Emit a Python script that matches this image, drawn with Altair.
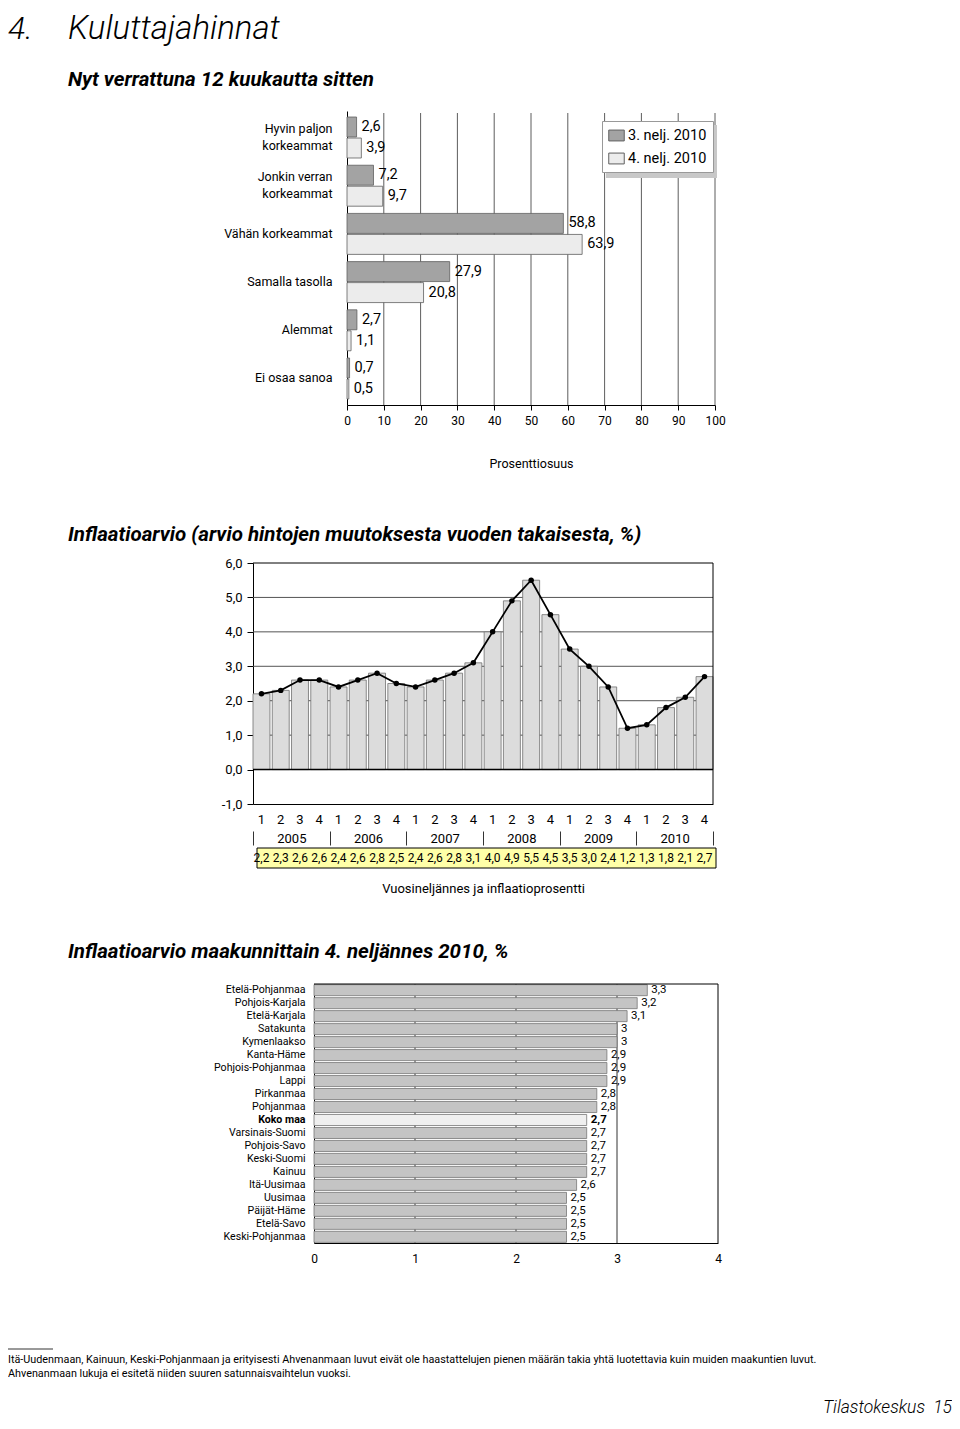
import altair as alt
import pandas as pd

W, H = 944, 1413
FONT = "Roboto"
ONE = pd.DataFrame({"a": [0]})

# ---------- Chart 1 data ----------
cat1 = ["Hyvin paljon\nkorkeammat", "Jonkin verran\nkorkeammat", "Vähän korkeammat",
        "Samalla tasolla", "Alemmat", "Ei osaa sanoa"]
ser1 = ["3. nelj. 2010", "4. nelj. 2010"]
q3_2010 = [2.6, 7.2, 58.8, 27.9, 2.7, 0.7]
q4_2010 = [3.9, 9.7, 63.9, 20.8, 1.1, 0.5]
ticks1 = [0, 10, 20, 30, 40, 50, 60, 70, 80, 90, 100]

# ---------- Chart 2 data ----------
years = [2005, 2006, 2007, 2008, 2009, 2010]
quarters = ["1", "2", "3", "4"]
inflation = [2.2, 2.3, 2.6, 2.6, 2.4, 2.6, 2.8, 2.5, 2.4, 2.6, 2.8, 3.1,
             4.0, 4.9, 5.5, 4.5, 3.5, 3.0, 2.4, 1.2, 1.3, 1.8, 2.1, 2.7]
ticks2 = [-1, 0, 1, 2, 3, 4, 5, 6]
grid2 = [1, 2, 3, 4, 5]

# ---------- Chart 3 data ----------
regions = ["Etelä-Pohjanmaa", "Pohjois-Karjala", "Etelä-Karjala", "Satakunta", "Kymenlaakso",
           "Kanta-Häme", "Pohjois-Pohjanmaa", "Lappi", "Pirkanmaa", "Pohjanmaa", "Koko maa",
           "Varsinais-Suomi", "Pohjois-Savo", "Keski-Suomi", "Kainuu", "Itä-Uusimaa", "Uusimaa",
           "Päijät-Häme", "Etelä-Savo", "Keski-Pohjanmaa"]
region_vals = [3.3, 3.2, 3.1, 3.0, 3.0, 2.9, 2.9, 2.9, 2.8, 2.8, 2.7,
               2.7, 2.7, 2.7, 2.7, 2.6, 2.5, 2.5, 2.5, 2.5]
ticks3 = [0, 1, 2, 3, 4]
grid3 = [1, 2, 3]

COMMA = "replace(format(datum.v, '.1f'), '.', ',')"


def text_item(s, x, y, size, align="left", **kw):
    return alt.Chart(ONE).mark_text(text=s, align=align, baseline="middle",
                                    fontSize=size, **kw).encode(x=alt.value(x), y=alt.value(y))


# ================= Chart 1 =================
df1 = pd.DataFrame([{"cat": c, "series": s, "v": v}
                    for s, vals in zip(ser1, [q3_2010, q4_2010])
                    for c, v in zip(cat1, vals)])

x1 = alt.X("v:Q", scale=alt.Scale(domain=[0, 100], range=[339, 707], nice=False),
           axis=alt.Axis(title="Prosenttiosuus", orient="bottom", offset=397 - H, values=ticks1,
                         tickSize=5, labelPadding=5, labelFontSize=12, titleFontSize=12.5,
                         titleFontWeight="normal", titlePadding=31, grid=False, labelFlush=False))
y1 = alt.Y("cat:N", sort=cat1,
           scale=alt.Scale(range=[103, 397], paddingInner=0.15, paddingOuter=0.125),
           axis=alt.Axis(title=None, orient="left", offset=-339, ticks=False, labelPadding=15,
                         labelFontSize=12.5, labelLineHeight=17, labelOverlap=False,
                         labelExpr="split(datum.value, '\\n')", grid=False,
                         labelOffset={"condition": {"test": "indexof(datum.value, '\\n') >= 0",
                                                    "value": -8.5}, "value": 0}))
yoff1 = alt.YOffset("series:N", sort=ser1, scale=alt.Scale(paddingInner=0.05))

legend_path = "M-1,-0.7L1,-0.7L1,0.7L-1,0.7Z"
color1 = alt.Color("series:N", sort=ser1,
                   scale=alt.Scale(domain=ser1, range=["#a3a3a3", "#ececec"]),
                   legend=alt.Legend(title=None, orient="none", legendX=594, legendY=113,
                                     fillColor="white", strokeColor="#999999", padding=6,
                                     symbolType=legend_path, symbolSize=240,
                                     symbolStrokeColor="#5f5f5f", symbolStrokeWidth=1,
                                     labelFontSize=14.5, rowPadding=7, labelOffset=3))

grid1 = alt.Chart(pd.DataFrame({"t": ticks1[1:]})).mark_rule(color="#333333", strokeWidth=0.8).encode(
    x="t:Q", y=alt.value(105), y2=alt.value(397))
bars1 = alt.Chart(df1).mark_bar(stroke="#5f5f5f", strokeWidth=0.8).encode(
    x=x1, y=y1, yOffset=yoff1, color=color1)
labels1 = alt.Chart(df1).transform_calculate(lbl=COMMA).mark_text(
    align="left", baseline="middle", dx=5, fontSize=14.5).encode(
    x="v:Q", y=alt.Y("cat:N", sort=cat1), yOffset=alt.YOffset("series:N", sort=ser1), text="lbl:N")
shadow = alt.Chart(ONE).mark_rect(fill="#c8c8c8").encode(
    x=alt.value(598), x2=alt.value(709), y=alt.value(117), y2=alt.value(170))

chart1 = alt.layer(grid1, bars1, labels1, shadow)

# ================= Chart 2 =================
periods = [f"{y}-{q}" for y in years for q in quarters]
df2 = pd.DataFrame({"period": periods, "v": inflation})

x2 = alt.X("period:O", sort=periods,
           scale=alt.Scale(range=[245, 705], paddingInner=0.12, paddingOuter=0),
           axis=alt.Axis(title=None, orient="bottom", offset=796 - H, ticks=False,
                         labelExpr="substring(datum.value, 5)", labelPadding=9, labelFontSize=13,
                         labelAngle=0, labelOverlap=False, grid=False))
y2 = alt.Y("v:Q", scale=alt.Scale(domain=[-1, 6], range=[796, 555], nice=False),
           axis=alt.Axis(title=None, orient="left", offset=-245, values=ticks2,
                         labelExpr="replace(replace(format(datum.value, '.1f'), '.', ','), '\u2212', '-')",
                         tickSize=6, labelPadding=5, labelFontSize=13, grid=False))

g2 = alt.Chart(pd.DataFrame({"g": grid2})).mark_rule(color="#555555", strokeWidth=1).encode(
    y="g:Q", x=alt.value(245), x2=alt.value(705))
bars2 = alt.Chart(df2).mark_bar(fill="#dcdcdc", stroke="#707070", strokeWidth=0.8).encode(
    x=x2, y=y2, y2=alt.datum(0))
zero2 = alt.Chart(ONE).mark_rule(color="black", strokeWidth=1.5).encode(
    y=alt.datum(0), x=alt.value(245), x2=alt.value(705))
top2 = alt.Chart(ONE).mark_rule(color="black", strokeWidth=1).encode(
    y=alt.datum(6), x=alt.value(245), x2=alt.value(705))
right2 = alt.Chart(ONE).mark_rule(color="black", strokeWidth=1).encode(
    x=alt.value(705), y=alt.datum(6), y2=alt.datum(-1))
line2 = alt.Chart(df2).mark_line(color="black", strokeWidth=1.8,
                                 point=alt.OverlayMarkDef(filled=True, color="black", size=30)).encode(
    x=alt.X("period:O", sort=periods), y="v:Q")
box2 = alt.Chart(ONE).mark_rect(fill="#ffffa8", stroke="black", strokeWidth=1).encode(
    x=alt.value(249), x2=alt.value(708), y=alt.value(840), y2=alt.value(860))
vals2 = alt.Chart(df2).transform_calculate(lbl=COMMA).mark_text(
    baseline="middle", fontSize=12).encode(
    x=alt.X("period:O", sort=periods), y=alt.value(850), text="lbl:N")

years_df = pd.DataFrame({"year": [str(y) for y in years]})
year_axis = alt.Chart(years_df).mark_point(opacity=0).encode(
    x=alt.X("year:N", sort=[str(y) for y in years],
            scale=alt.Scale(type="band", range=[245, 705], paddingInner=0, paddingOuter=0),
            axis=alt.Axis(title="Vuosineljännes ja inflaatioprosentti", orient="bottom",
                          offset=823 - H, tickBand="extent", tickSize=14, labelPadding=-13,
                          domain=False, labelFontSize=13, titleFontSize=13,
                          titleFontWeight="normal", titlePadding=37, labelAngle=0,
                          tickColor="#333333", grid=False)),
    y=alt.value(800))

chart2 = alt.layer(
    alt.layer(g2, bars2, zero2, top2, right2, line2, box2, vals2),
    year_axis
).resolve_scale(x="independent")

# ================= Chart 3 =================
df3 = pd.DataFrame({"region": regions, "v": region_vals})
is_koko = "datum.region === 'Koko maa'"

x3 = alt.X("v:Q", scale=alt.Scale(domain=[0, 4], range=[306, 710], nice=False),
           axis=alt.Axis(title=None, orient="bottom", offset=1235 - H, values=ticks3, ticks=False,
                         format="d", labelPadding=10, labelFontSize=12, labelFlush=False, grid=False))
y3 = alt.Y("region:N", sort=regions,
           scale=alt.Scale(range=[976, 1235], paddingInner=0.15, paddingOuter=0.05),
           axis=alt.Axis(title=None, orient="left", offset=-306, ticks=False, labelPadding=9,
                         labelFontSize=10.6, labelOverlap=False, grid=False,
                         labelFontWeight={"condition": {"test": "datum.value === 'Koko maa'",
                                                        "value": "bold"}, "value": "normal"}))

g3 = alt.Chart(pd.DataFrame({"g": grid3})).mark_rule(color="#333333", strokeWidth=1).encode(
    x="g:Q", y=alt.value(976), y2=alt.value(1235))
bars3 = alt.Chart(df3).mark_bar(stroke="#777777", strokeWidth=0.8).encode(
    x=x3, y=y3, fill=alt.condition(is_koko, alt.value("#efefef"), alt.value("#c4c4c4")))
labels3n = alt.Chart(df3).transform_filter("datum.region !== 'Koko maa'").transform_calculate(
    lbl="replace(toString(datum.v), '.', ',')").mark_text(
    align="left", baseline="middle", dx=4, fontSize=11.5).encode(
    x="v:Q", y=alt.Y("region:N", sort=regions), text="lbl:N")
labels3b = alt.Chart(df3).transform_filter(is_koko).transform_calculate(
    lbl="replace(toString(datum.v), '.', ',')").mark_text(
    align="left", baseline="middle", dx=4, fontSize=11.5, fontWeight="bold").encode(
    x="v:Q", y=alt.Y("region:N", sort=regions), text="lbl:N")
right3 = alt.Chart(ONE).mark_rule(color="black", strokeWidth=1).encode(
    x=alt.datum(4), y=alt.value(976), y2=alt.value(1235))
top3 = alt.Chart(ONE).mark_rule(color="black", strokeWidth=1).encode(
    x=alt.datum(0), x2=alt.datum(4), y=alt.value(976))

chart3 = alt.layer(g3, bars3, labels3n, labels3b, right3, top3)

# ================= Page texts =================
texts = alt.layer(
    text_item("4.", 0, 21, 32, fontStyle="italic", fontWeight=300),
    text_item("Kuluttajahinnat", 60, 21, 33, fontStyle="italic", fontWeight=300),
    text_item("Nyt verrattuna 12 kuukautta sitten", 60, 72, 20.5, fontStyle="italic", fontWeight="bold"),
    text_item("Inflaatioarvio (arvio hintojen muutoksesta vuoden takaisesta, %)", 60, 527, 20.5,
              fontStyle="italic", fontWeight="bold"),
    text_item("Inflaatioarvio maakunnittain 4. neljännes 2010, %", 60, 944, 20.5,
              fontStyle="italic", fontWeight="bold"),
    alt.Chart(ONE).mark_rule(color="black", strokeWidth=0.8).encode(
        x=alt.value(0), x2=alt.value(45), y=alt.value(1341)),
    text_item("Itä-Uudenmaan, Kainuun, Keski-Pohjanmaan ja erityisesti Ahvenanmaan luvut eivät ole "
              "haastattelujen pienen määrän takia yhtä luotettavia kuin muiden maakuntien luvut.",
              0, 1352, 10.8),
    text_item("Ahvenanmaan lukuja ei esitetä niiden suuren satunnaisvaihtelun vuoksi.", 0, 1366, 10.8),
    text_item("Tilastokeskus", 917, 1400, 17.5, align="right", fontStyle="italic", fontWeight=300),
    text_item("15", 944, 1400, 17.5, align="right", fontStyle="italic", fontWeight=300),
)

chart = alt.layer(chart1, chart2, chart3, texts).resolve_scale(
    x="independent", y="independent", color="independent"
).properties(
    width=W, height=H, padding=0, autosize=alt.AutoSizeParams(type="none")
).configure(font=FONT).configure_view(stroke=None).configure_axis(
    labelColor="black", titleColor="black", domainColor="black", tickColor="black", grid=False
).configure_text(color="black")

chart.save("out.html", embed_options={"renderer": "svg", "actions": False})
